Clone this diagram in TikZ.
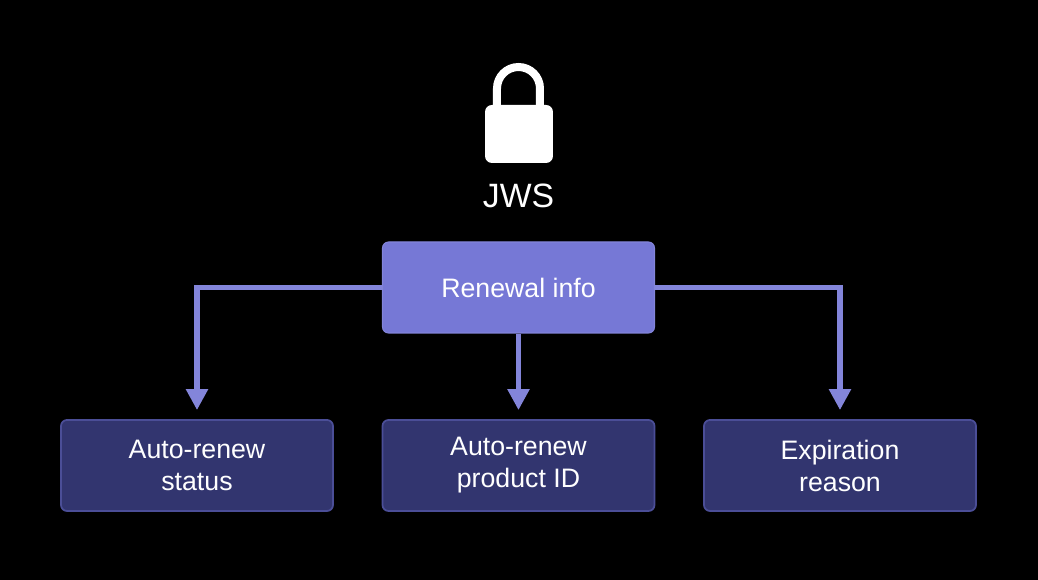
\documentclass[tikz,border=0pt]{standalone}
\usepackage{fontspec}
\setmainfont{Liberation Sans}
\usetikzlibrary{arrows.meta}
\definecolor{topfill}{HTML}{7678D6}
\definecolor{leaffill}{HTML}{32356F}
\definecolor{leafline}{HTML}{4B4E97}
\definecolor{linkcol}{HTML}{8385DA}
\tikzset{
  infobox/.style={rounded corners=.06cm,minimum width=2.72cm,minimum height=.91cm,inner sep=0pt,
    align=center,text=white,font=\fontsize{7.6}{9.1}\selectfont},
  topbox/.style={infobox,fill=topfill,draw=linkcol,line width=.3pt},
  leafbox/.style={infobox,fill=leaffill,draw=leafline,line width=.5pt},
  link/.style={draw=linkcol,line width=.055cm,-{Triangle[width=.21cm,length=.21cm]},shorten >=.09cm}
}
\begin{document}
\begin{tikzpicture}
    \useasboundingbox[fill=black] (0,0) rectangle (10.38,5.80);

    \node (Lock) at (5.19,4.46) [fill=white,rounded corners=.07cm,minimum width=.68cm,minimum height=.58cm,inner sep=0pt] {};
    \node (Jws) at (5.185,3.84) [text=white,font=\fontsize{9.6}{11}\selectfont] {JWS};
    \coordinate (ShL) at (4.97,4.70);
    \coordinate (ShR) at (5.40,4.70);
    \draw[white,line width=.08cm] (ShL) -- (4.97,4.915) arc (180:0:.215) -- (ShR);

    \node (Renewal) at (5.185,2.925) [topbox] {Renewal info};

    \node (Status) at (1.97,1.145) [leafbox] {Auto-renew\\status};
    \node (Product) at (5.185,1.145) [leafbox] {Auto-renew\\product ID};
    \node (Reason) at (8.40,1.145) [leafbox] {Expiration\\reason};

    \draw[link] (Renewal.west) -| (Status.north);
    \draw[link] (Renewal.south) to (Product.north);
    \draw[link] (Renewal.east) -| (Reason.north);
\end{tikzpicture}
\end{document}
